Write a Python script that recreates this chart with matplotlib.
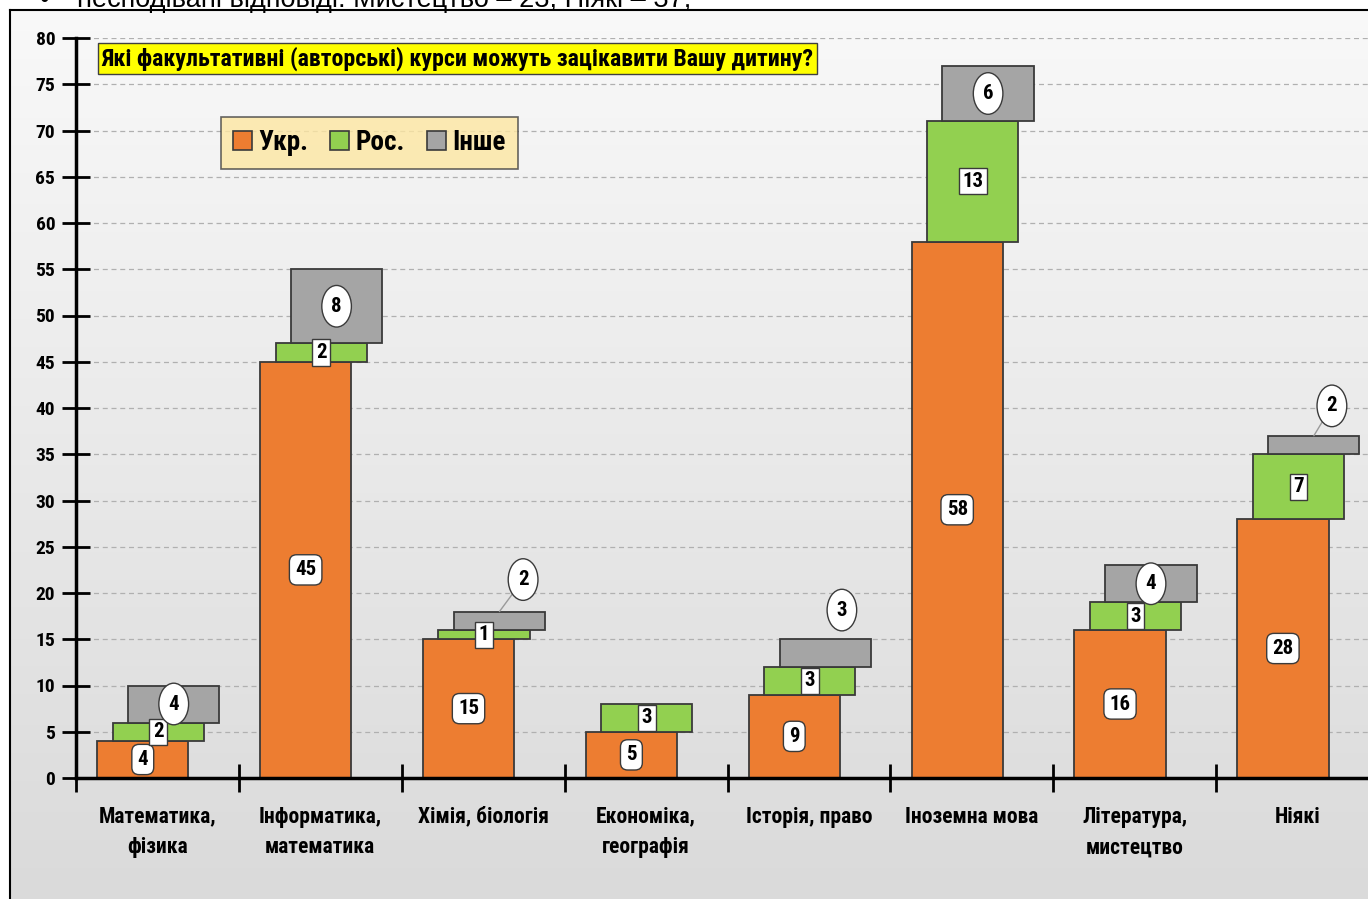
import numpy as np
import matplotlib
matplotlib.use("Agg")
import matplotlib.pyplot as plt
from matplotlib import font_manager as fm
from matplotlib.patches import Rectangle
from matplotlib.lines import Line2D

# ---------------- data ----------------
categories = ["Математика,\nфізика", "Інформатика,\nматематика", "Хімія, біологія",
              "Економіка,\nгеографія", "Історія, право", "Іноземна мова",
              "Література,\nмистецтво", "Ніякі"]
ukr = [4, 45, 15, 5, 9, 58, 16, 28]
ros = [2, 2, 1, 3, 3, 13, 3, 7]
other = [4, 8, 2, 0, 3, 6, 4, 2]
series_names = ["Укр.", "Рос.", "Інше"]
yticks = list(range(0, 85, 5))
title = "Які факультативні (авторські) курси можуть зацікавити Вашу дитину?"
top_note = "несподівані відповіді: Мистецтво – 23, Ніякі – 37;"

# ---------------- font choice ----------------
_fonts = fm.fontManager.ttflist
def _has_bold(name):
    return any(f.name == name and (f.weight in ("bold", "semibold", "demibold") or
               (isinstance(f.weight, int) and f.weight >= 600)) for f in _fonts)
COND_NAME = "DejaVu Sans"
for cand in ["Roboto Condensed", "PT Sans Narrow", "Fira Sans Condensed", "Oswald",
             "Liberation Sans Narrow", "Archivo Narrow"]:
    if _has_bold(cand):
        COND_NAME = cand
        break
COND = [COND_NAME, "DejaVu Sans"]

# ---------------- style ----------------
colors = ["#ED7D31", "#92D050", "#A5A5A5"]
edge = "#3a3a3a"
bar_w = 0.56
centers = [0.41, 0.505, 0.60]          # position of each series inside its category
other_offsets = {2: (17, 23), 4: (12, 31), 7: (13, 21.5)}   # moved "other" labels (points)
leader = {2, 7}

W, H = 1368, 899
fig = plt.figure(figsize=(W / 100, H / 100), dpi=100)
fig.patch.set_facecolor("white")

# gradient background with border
bg = fig.add_axes([10 / W, 0, 1, 1 - 10 / H])
grad = np.linspace(0.975, 0.855, 256).reshape(-1, 1)
bg.imshow(np.dstack([grad, grad, grad]), aspect="auto", extent=[0, 1, 0, 1], zorder=0)
bg.set_xlim(0, 1); bg.set_ylim(0, 1)
for s in bg.spines.values():
    s.set_visible(False)
bg.set_xticks([]); bg.set_yticks([])
fig.add_artist(Line2D([10 / W, 10 / W], [0, 1 - 10 / H], color="black", lw=1.5))
fig.add_artist(Line2D([10 / W, 1], [1 - 10 / H, 1 - 10 / H], color="black", lw=1.5))

# cut-off note at top
fig.text(40 / W, 1 - 7 / H, "•", fontsize=19.5, family=["Liberation Sans", "DejaVu Sans"], va="baseline")
fig.text(77 / W, 1 - 7 / H, top_note, fontsize=19.5, family=["Liberation Sans", "DejaVu Sans"], va="baseline")

ax = fig.add_axes([76 / W, 1 - 778 / H, 1303 / W, 740 / H])
ax.set_facecolor("none")
ax.set_xlim(0, 8)
ax.set_ylim(0, 80)

x = np.arange(len(categories))
ukr_a, ros_a, oth_a = np.array(ukr), np.array(ros), np.array(other)
bottoms = [np.zeros(len(x)), ukr_a, ukr_a + ros_a]
vals = [ukr_a, ros_a, oth_a]

for k in range(3):
    m = vals[k] > 0
    ax.bar((x + centers[k])[m], vals[k][m], bottom=bottoms[k][m], width=bar_w, color=colors[k],
           edgecolor=edge, linewidth=1.3, zorder=3 + k)

# labels
lbl_font = dict(family=COND, fontweight="bold", fontsize=15, color="black")
for i in range(len(x)):
    ax.annotate(str(ukr[i]), (x[i] + centers[0], ukr[i] / 2), ha="center", va="center",
                bbox=dict(boxstyle="round,pad=0.27,rounding_size=0.35", fc="white", ec=edge, lw=1),
                zorder=10, **lbl_font)
    ax.annotate(str(ros[i]), (x[i] + centers[1], ukr[i] + ros[i] / 2), ha="center", va="center",
                bbox=dict(boxstyle="square,pad=0.17", fc="white", ec=edge, lw=1),
                zorder=11, **lbl_font)
    if other[i] > 0:
        y0 = ukr[i] + ros[i] + other[i] / 2
        off = other_offsets.get(i, (0, 0))
        ap = None
        if i in leader:
            ap = dict(arrowstyle="-", color="#9a9a9a", lw=1, shrinkA=0, shrinkB=0)
        xy_target = (x[i] + centers[2], ukr[i] + ros[i] + other[i]) if i in leader else (x[i] + centers[2], y0)
        ax.annotate(str(other[i]), xy_target, xytext=off, textcoords="offset points",
                    ha="center", va="center",
                    bbox=dict(boxstyle="ellipse,pad=0.25", fc="white", ec=edge, lw=1),
                    arrowprops=ap, zorder=12, **lbl_font)

# axes styling
for s in ["top", "right"]:
    ax.spines[s].set_visible(False)
for s in ["left", "bottom"]:
    ax.spines[s].set_linewidth(2.5)
    ax.spines[s].set_color("black")
    ax.spines[s].set_zorder(20)

ax.set_yticks(yticks)
ax.set_yticklabels([str(v) for v in yticks], family=COND, fontweight="bold", fontsize=14)
ax.tick_params(axis="y", direction="inout", length=20, width=2, pad=5)
ax.set_xticks(np.arange(0, 9))
ax.set_xticklabels([])
ax.tick_params(axis="x", which="major", direction="inout", length=20, width=2)
ax.set_xticks(x + 0.5, minor=True)
ax.set_xticklabels(categories, minor=True, family=COND, fontweight="bold", fontsize=15.5,
                   linespacing=1.5, va="top")
ax.tick_params(axis="x", which="minor", length=0, pad=20)

ax.yaxis.grid(True, color="#b0b0b0", linestyle=(0, (4, 3)), linewidth=0.9, zorder=1)
ax.set_axisbelow(True)

# title box
ax.text(0.0197, 0.9885, title, transform=ax.transAxes, ha="left", va="top",
        family=COND, fontweight="bold", fontsize=17.2,
        bbox=dict(boxstyle="square,pad=0.15", fc="#FFFF00", ec="#404040", lw=1), zorder=30)

# legend
handles = [Rectangle((0, 0), 1, 1, fc=c, ec=edge, lw=1.2) for c in colors]
leg = ax.legend(handles, series_names, loc="upper left", bbox_to_anchor=(0.111, 0.893),
                ncol=3, frameon=True, fancybox=False, handlelength=0.7, handleheight=0.7,
                handletextpad=0.25, columnspacing=0.8, borderpad=0.45, borderaxespad=0,
                prop=dict(family=COND, weight="bold", size=19.5))
leg.get_frame().set_facecolor("#FDE7A2")
leg.get_frame().set_edgecolor("#404040")
leg.get_frame().set_linewidth(1.2)
leg.set_zorder(30)

fig.savefig("out.png", dpi=100)
